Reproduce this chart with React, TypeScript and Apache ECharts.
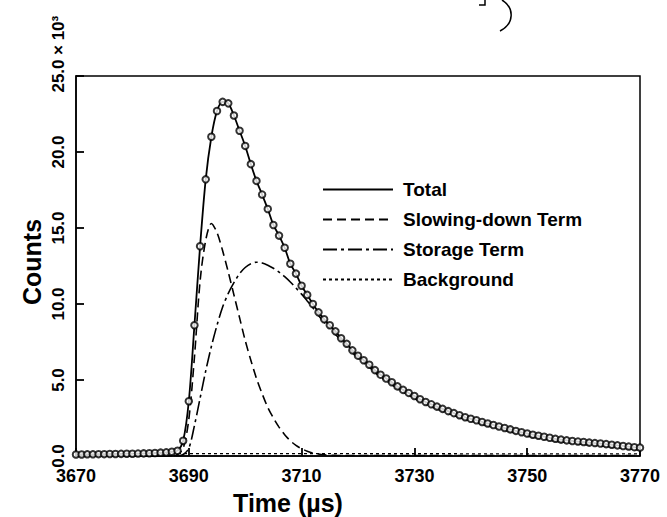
import React, { useEffect, useRef } from "react";
import * as echarts from "echarts";

// Time axis (µs)
const timeStart = 3670;
const xTicks = [3670, 3690, 3710, 3730, 3750, 3770];
const yTicks = [0, 5, 10, 15, 20, 25];
const xTitle = "Time (µs)";
const yTitle = "Counts";
const yScaleNote = "× 10³";

// Measured total counts (×10³), one point per µs from 3670 to 3770
const totalCounts = [
  0.10, 0.10, 0.11, 0.11, 0.12, 0.12, 0.13, 0.13, 0.14, 0.15,
  0.15, 0.16, 0.17, 0.18, 0.20, 0.22, 0.24, 0.28, 0.35, 1.0,
  3.6, 8.6, 13.8, 18.2, 21.0, 22.7, 23.3, 23.2, 22.4, 21.4,
  20.4, 19.2, 18.1, 17.2, 16.25, 15.2, 14.5, 13.7, 12.65, 12.0,
  11.2, 10.6, 10.0, 9.45, 9.0, 8.6, 8.2, 7.75, 7.38, 6.95,
  6.6, 6.3, 6.0, 5.65, 5.35, 5.1, 4.85, 4.58, 4.35, 4.15,
  3.95, 3.73, 3.55, 3.4, 3.25, 3.1, 2.95, 2.82, 2.68, 2.55,
  2.45, 2.35, 2.24, 2.14, 2.04, 1.94, 1.84, 1.75, 1.65, 1.56,
  1.48, 1.40, 1.33, 1.27, 1.20, 1.13, 1.08, 1.03, 0.99, 0.95,
  0.92, 0.88, 0.85, 0.82, 0.78, 0.74, 0.70, 0.66, 0.62, 0.58,
  0.55,
];

// Slowing-down term (×10³), per µs from 3670
const slowingDown = [
  0, 0, 0, 0, 0, 0, 0, 0, 0, 0,
  0, 0, 0, 0, 0, 0, 0, 0, 0.1, 0.5,
  2.4, 6.5, 11.5, 14.2, 15.3, 14.7, 13.5, 12.1, 10.6, 9.1,
  7.6, 6.3, 5.1, 4.1, 3.2, 2.5, 1.9, 1.4, 1.0, 0.7,
  0.48, 0.32, 0.2, 0.13, 0.08, 0.05, 0.04, 0.03, 0.03, 0.03,
  0.03, 0.03, 0.03, 0.03, 0.03, 0.03, 0.03, 0.03, 0.03, 0.03,
  0.03, 0.03, 0.03, 0.03, 0.03, 0.03, 0.03, 0.03, 0.03, 0.03,
  0.03, 0.03, 0.03, 0.03, 0.03, 0.03, 0.03, 0.03, 0.03, 0.03,
  0.03, 0.03, 0.03, 0.03, 0.03, 0.03, 0.03, 0.03, 0.03, 0.03,
  0.03, 0.03, 0.03, 0.03, 0.03, 0.03, 0.03, 0.03, 0.03, 0.03,
  0.03,
];

// Storage term (×10³), per µs from 3670
const storageTerm = [
  0, 0, 0, 0, 0, 0, 0, 0, 0, 0,
  0, 0, 0, 0, 0, 0, 0, 0, 0, 0.1,
  0.5, 2.0, 3.8, 5.6, 7.2, 8.6, 9.8, 10.7, 11.4, 12.0,
  12.4, 12.65, 12.75, 12.7, 12.55, 12.35, 12.1, 11.8, 11.45, 11.05,
  10.65, 10.2, 9.75, 9.25, 8.8, 8.4, 8.0, 7.6, 7.22, 6.8,
  6.45, 6.15, 5.85, 5.5, 5.2, 4.95, 4.7, 4.43, 4.2, 4.0,
  3.8, 3.58, 3.4, 3.25, 3.1, 2.95, 2.8, 2.67, 2.53, 2.4,
  2.3, 2.2, 2.09, 1.99, 1.89, 1.79, 1.69, 1.6, 1.5, 1.41,
  1.33, 1.25, 1.18, 1.12, 1.05, 0.98, 0.93, 0.88, 0.84, 0.8,
  0.77, 0.73, 0.7, 0.67, 0.63, 0.59, 0.55, 0.51, 0.47, 0.43,
  0.40,
];

// Background (×10³): [time, value]
const backgroundTimes = [3670, 3720, 3770];
const backgroundValues = [0.16, 0.15, 0.14];

const seriesNames = ["Total", "Slowing-down Term", "Storage Term", "Background"];

const FONT = "'Liberation Sans', Arial, Helvetica, sans-serif";

const toPairs = (vals: number[]) => vals.map((v, i) => [timeStart + i, v]);

export default function App() {
  const ref = useRef<HTMLDivElement>(null);

  useEffect(() => {
    if (!ref.current) return;
    const chart = echarts.init(ref.current, null, { renderer: "svg" });
    const black = "#000";
    const hidden = "rgba(0,0,0,0)";
    chart.setOption({
      animation: false,
      backgroundColor: "#fff",
      grid: {
        left: 76,
        right: 27,
        top: 76,
        bottom: 61,
        show: true,
        borderColor: black,
        borderWidth: 1.5,
      },
      legend: {
        data: seriesNames,
        orient: "vertical",
        left: 317,
        top: 175,
        itemWidth: 70,
        itemHeight: 12,
        itemGap: 11,
        selectedMode: false,
        itemStyle: { color: hidden, borderColor: hidden, borderWidth: 0, opacity: 0 },
        textStyle: { color: black, fontFamily: FONT, fontWeight: "bold", fontSize: 19, padding: [0, 0, 0, 5] },
      },
      xAxis: {
        type: "value",
        min: xTicks[0],
        max: xTicks[xTicks.length - 1],
        interval: 20,
        axisLine: { show: true, lineStyle: { color: black, width: 1.5 } },
        axisTick: { show: true, inside: true, length: 8, lineStyle: { color: black, width: 1.8 } },
        splitLine: { show: false },
        axisLabel: {
          color: black,
          fontFamily: FONT,
          fontWeight: "bold",
          fontSize: 18,
          margin: 11,
          formatter: (v: number) => String(v),
        },
      },
      yAxis: {
        type: "value",
        min: yTicks[0],
        max: yTicks[yTicks.length - 1],
        interval: 5,
        axisLine: { show: true, lineStyle: { color: black, width: 1.5 } },
        axisTick: { show: true, inside: true, length: 8, lineStyle: { color: black, width: 1.8 } },
        splitLine: { show: false },
        axisLabel: {
          rotate: 90,
          color: black,
          fontFamily: FONT,
          fontWeight: "bold",
          fontSize: 17,
          margin: 9,
          formatter: (v: number) => v.toFixed(1),
        },
      },
      graphic: [
        {
          type: "text",
          x: 288,
          y: 503,
          style: {
            text: xTitle,
            fill: black,
            font: `bold 25px ${FONT}`,
            textAlign: "center",
            textVerticalAlign: "middle",
          },
        },
        {
          type: "text",
          x: 32,
          y: 262,
          rotation: Math.PI / 2,
          style: {
            text: yTitle,
            fill: black,
            font: `bold 25px ${FONT}`,
            textAlign: "center",
            textVerticalAlign: "middle",
          },
        },
        {
          type: "text",
          x: 58.5,
          y: 55,
          rotation: Math.PI / 2,
          style: {
            text: yScaleNote,
            fill: black,
            font: `bold 17px ${FONT}`,
            textAlign: "left",
            textVerticalAlign: "middle",
          },
        },
        {
          type: "polyline",
          shape: { points: [[479, 5], [485, 5], [485, 0]] },
          style: { stroke: black, lineWidth: 1.5, fill: "none" },
        },
        {
          type: "bezierCurve",
          shape: { x1: 502, y1: 0, x2: 500, y2: 31, cpx1: 515, cpy1: 8, cpx2: 514, cpy2: 24 },
          style: { stroke: black, lineWidth: 1.5, fill: "none" },
        },
      ],
      series: [
        {
          name: "Total",
          type: "line",
          data: toPairs(totalCounts),
          symbol: "none",
          smooth: 0.3,
          lineStyle: { color: black, width: 1.8, type: "solid" },
          itemStyle: { color: hidden },
          z: 4,
        },
        {
          name: "Slowing-down Term",
          type: "line",
          data: toPairs(slowingDown),
          symbol: "none",
          smooth: 0.3,
          lineStyle: { color: black, width: 1.6, type: [9, 5] },
          itemStyle: { color: hidden },
          z: 3,
        },
        {
          name: "Storage Term",
          type: "line",
          data: toPairs(storageTerm),
          symbol: "none",
          smooth: 0.3,
          lineStyle: { color: black, width: 1.6, type: [14, 4, 3, 4] },
          itemStyle: { color: hidden },
          z: 3,
        },
        {
          name: "Background",
          type: "line",
          data: backgroundTimes.map((t, i) => [t, backgroundValues[i]]),
          symbol: "none",
          lineStyle: { color: black, width: 1.3, type: [3, 3] },
          itemStyle: { color: hidden },
          z: 2,
        },
        {
          name: "Data",
          type: "scatter",
          data: toPairs(totalCounts),
          symbol: "circle",
          symbolSize: 6.5,
          itemStyle: { color: "#fff", borderColor: black, borderWidth: 2 },
          z: 5,
        },
      ],
    });
    return () => chart.dispose();
  }, []);

  return <div ref={ref} style={{ width: 667, height: 517, position: "absolute", left: 0, top: 0 }} />;
}
